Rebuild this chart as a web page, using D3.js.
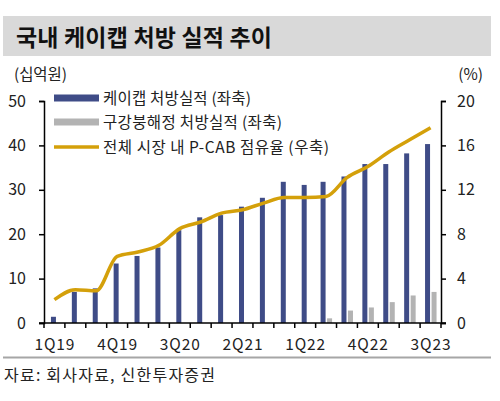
<!DOCTYPE html>
<html><head><meta charset="utf-8">
<script src="https://cdn.jsdelivr.net/npm/d3@7"></script>
<style>
html,body{margin:0;padding:0;background:#fff;}
svg{display:block;font-family:"Noto Sans CJK KR","Noto Sans",sans-serif;}
</style></head>
<body><svg id="c" width="500" height="401"></svg>
<script>
const categories = ["1Q19","2Q19","3Q19","4Q19","1Q20","2Q20","3Q20","4Q20","1Q21","2Q21","3Q21","4Q21","1Q22","2Q22","3Q22","4Q22","1Q23","2Q23","3Q23"];
const kcabValues = [1.4,7.0,7.8,13.4,15.1,17.0,20.9,23.8,24.3,26.2,28.2,31.8,31.1,31.8,33.0,35.8,35.8,38.2,40.3];
const odtValues  = [null,null,null,null,null,null,null,null,null,null,null,null,null,1.05,2.8,3.5,4.7,6.2,7.0];
const shareValues = [2.1,3.0,2.9,6.0,6.4,7.0,8.5,9.1,9.9,10.2,10.8,11.3,11.3,11.4,13.1,14.1,15.4,16.5,17.6];
const tickLabels = ["1Q19","4Q19","3Q20","2Q21","1Q22","4Q22","3Q23"];
const leftTicks = [0,10,20,30,40,50];
const rightTicks = [0,4,8,12,16,20];
const legendLabels = ["케이캡 처방실적 (좌축)","구강붕해정 처방실적 (좌축)","전체 시장 내 P-CAB 점유율 (우축)"];
const legendWidths = [148,179,226];

const svg = d3.select("#c");
const C_BLUE = "#3f4c87", C_GRAY = "#b3b3b3", C_GOLD = "#d4a00a", C_TEXT = "#222";

// title
svg.append("rect").attr("x",3).attr("y",16).attr("width",488).attr("height",40).attr("fill","#d9d9d9");
svg.append("text").attr("x",16).attr("y",46).attr("font-size",23).attr("font-weight",700).attr("fill","#111")
  .attr("textLength",256).attr("lengthAdjust","spacing").text("국내 케이캡 처방 실적 추이");

const L = 44, R = 441, T = 101, B = 323;
const x = d3.scaleBand().domain(categories).range([L,R]).paddingInner(0).paddingOuter(0);
const yL = d3.scaleLinear().domain([0,50]).range([B,T]);
const yR = d3.scaleLinear().domain([0,20]).range([B,T]);

svg.append("text").attr("x",14).attr("y",80).attr("font-size",15.5).attr("fill",C_TEXT)
  .attr("textLength",53).attr("lengthAdjust","spacing").text("(십억원)");
svg.append("text").attr("x",483).attr("y",80).attr("text-anchor","end").attr("font-size",15.5).attr("fill",C_TEXT).text("(%)");

const bw = 5;
// bars
svg.append("g").selectAll("rect").data(categories).join("rect")
  .attr("x",(d,i)=>x(d)+x.bandwidth()/2 - (odtValues[i]!=null? bw+0.5 : bw/2+1))
  .attr("y",(d,i)=>yL(kcabValues[i]))
  .attr("width",bw).attr("height",(d,i)=>B - yL(kcabValues[i]))
  .attr("fill",C_BLUE);
svg.append("g").selectAll("rect").data(categories.filter((d,i)=>odtValues[i]!=null)).join("rect")
  .attr("x",d=>x(d)+x.bandwidth()/2 + 1)
  .attr("y",d=>yL(odtValues[categories.indexOf(d)]))
  .attr("width",bw).attr("height",d=>B - yL(odtValues[categories.indexOf(d)]))
  .attr("fill",C_GRAY);

// line
const line = d3.line().x((d,i)=>x(categories[i])+x.bandwidth()/2).y(d=>yR(d)).curve(d3.curveMonotoneX);
svg.append("path").datum(shareValues).attr("d",line).attr("fill","none").attr("stroke",C_GOLD).attr("stroke-width",3.5).attr("stroke-linejoin","round");

// axes
const axL = svg.append("g").attr("transform",`translate(${L},0)`).call(d3.axisLeft(yL).tickValues(leftTicks).tickSize(5).tickPadding(13));
const axR = svg.append("g").attr("transform",`translate(${R},0)`).call(d3.axisRight(yR).tickValues(rightTicks).tickSize(5).tickPadding(11));
const xBounds = d3.range(categories.length+1).map(i=>L + i*x.step());
const axB = svg.append("g").attr("transform",`translate(0,${B})`);
axB.append("line").attr("x1",L-5).attr("x2",R+5).attr("stroke","#000").attr("stroke-width",1.5);
axB.selectAll("line.t").data(xBounds).join("line").attr("class","t").attr("x1",d=>d).attr("x2",d=>d).attr("y1",0).attr("y2",5).attr("stroke","#000").attr("stroke-width",1.5);
axB.selectAll("text").data(tickLabels).join("text")
  .attr("x",d=>x(d)+x.bandwidth()/2 - 20).attr("y",27)
  .attr("font-size",15.5).attr("fill",C_TEXT)
  .attr("textLength",40).attr("lengthAdjust","spacing").text(d=>d);

[axL,axR].forEach(a=>{
  a.select(".domain").attr("stroke","#000").attr("stroke-width",1.5);
  a.selectAll(".tick line").attr("stroke","#000").attr("stroke-width",1.5);
  a.selectAll(".tick text").attr("font-size",16).attr("fill",C_TEXT).attr("font-family","'Noto Sans CJK KR','Noto Sans',sans-serif");
});

// legend
const lg = svg.append("g");
const ly = [98,122,147];
lg.append("rect").attr("x",54).attr("y",ly[0]-3.5).attr("width",45).attr("height",7).attr("fill",C_BLUE);
lg.append("rect").attr("x",54).attr("y",ly[1]-3.5).attr("width",45).attr("height",7).attr("fill",C_GRAY);
lg.append("line").attr("x1",54).attr("x2",99).attr("y1",ly[2]).attr("y2",ly[2]).attr("stroke",C_GOLD).attr("stroke-width",3.5);
legendLabels.forEach((t,i)=>{
  lg.append("text").attr("x",103).attr("y",ly[i]+5.5).attr("font-size",15.5).attr("fill",C_TEXT)
    .attr("textLength",legendWidths[i]).attr("lengthAdjust","spacing").text(t);
});

// footer
svg.append("line").attr("x1",3).attr("x2",491).attr("y1",357.5).attr("y2",357.5).attr("stroke","#a6a6a6").attr("stroke-width",2);
svg.append("text").attr("x",4).attr("y",381).attr("font-size",16).attr("fill",C_TEXT)
  .attr("textLength",211).attr("lengthAdjust","spacing").text("자료: 회사자료, 신한투자증권");
</script></body></html>
